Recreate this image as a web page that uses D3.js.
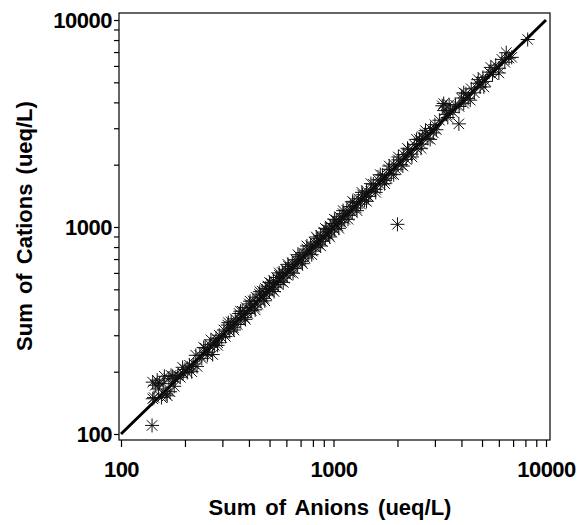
<!DOCTYPE html>
<html>
<head>
<meta charset="utf-8">
<script src="https://cdn.jsdelivr.net/npm/d3@7"></script>
<style>
  body { margin: 0; background: #fff; }
  text { font-family: "Liberation Sans", Arial, sans-serif; }
</style>
</head>
<body>
<div id="chart"></div>
<script>
// Size of the page and the plot frame
const width = 579;
const height = 525;
const frame = {left: 119, right: 550, top: 13, bottom: 440};

// Tick values for both log axes
const majorTicks = [100, 1000, 10000];
const minorTicks = [200, 300, 400, 500, 600, 700, 800, 900,
                    2000, 3000, 4000, 5000, 6000, 7000, 8000, 9000];

// Sum of anions (x) and sum of cations (y), ueq/L
const anions = [
  140, 141, 141, 143, 145, 148, 152, 155, 160, 163, 165, 168, 170, 175, 180, 185, 190, 196, 200, 205,
  210, 216, 220, 228, 235, 240, 249, 255, 262, 270, 275, 280, 285, 290, 298,
  305, 310, 318, 325, 330, 338, 345, 352, 360, 366, 372, 380, 388, 395, 402, 410, 418, 425, 432, 440,
  448, 455, 462, 470, 478, 485, 492, 500, 508, 515, 522, 530, 540, 548, 556, 565, 575, 585, 595, 605,
  615, 625, 640, 652, 665, 678, 690, 705, 720, 735, 750, 765, 780, 795, 810, 825, 840, 855, 870, 885,
  900, 915, 930, 948, 965, 980, 995, 1010, 1030, 1050, 1070, 1090, 1110, 1130, 1155, 1180, 1200, 1225,
  1250, 1280, 1310, 1340, 1370, 1400, 1430, 1460, 1500, 1540, 1580, 1620, 1660, 1700, 1740, 1780,
  1820, 1870, 1920, 1970, 2000, 2020, 2080, 2140, 2200, 2260, 2330, 2400, 2470, 2540, 2600, 2620,
  2700, 2780, 2860, 2950, 3000, 3050, 3150, 3250, 3300, 3350, 3400, 3450, 3500, 3550, 3650, 3750,
  3890, 3900, 4000, 4100, 4200, 4300, 4450, 4600, 4750, 4900, 5050, 5200, 5400, 5600, 5800, 6000,
  6200, 6400, 6700, 8200,
  150, 158, 172, 178, 195, 215, 225, 245, 255, 265, 285,
  320, 340, 365, 385, 405, 428, 450, 475, 500, 525, 555, 580, 610, 645, 680, 715, 750, 790, 830, 870,
  915, 960, 1010, 1060, 1110, 1170, 1230, 1290, 1360, 1430, 1500, 1580, 1660, 1740, 1830, 1920,
  2020, 2120, 2230, 2340, 2460, 2580, 2710, 2850, 4100, 4400, 4800, 5100, 5500, 6000, 6500, 6900
];
const cations = [
  110, 148, 178, 150, 172, 182, 176, 150, 190, 156, 153, 185, 160, 190, 185, 192, 188, 197, 205, 198,
  215, 212, 218, 212, 240, 232, 260, 248, 270, 242, 268, 290, 276, 300, 292,
  318, 296, 336, 312, 348, 326, 360, 338, 382, 352, 392, 365, 408, 382, 425, 395, 440, 410, 458, 424,
  474, 438, 490, 452, 505, 470, 518, 486, 535, 500, 550, 512, 570, 528, 585, 548, 602, 566, 625, 585,
  645, 605, 670, 630, 695, 655, 722, 680, 752, 708, 782, 738, 812, 765, 845, 795, 878, 825, 910, 852,
  945, 882, 975, 915, 1010, 945, 1040, 975, 1080, 1012, 1120, 1050, 1160, 1090, 1205, 1138, 1255, 1180,
  1310, 1235, 1370, 1290, 1430, 1350, 1495, 1405, 1485, 1610, 1520, 1690, 1600, 1780, 1680, 1720,
  1900, 1800, 2010, 1900, 1030, 2110, 2000, 2240, 2120, 2360, 2250, 2500, 2380, 2650, 2510, 2730,
  2820, 2680, 2990, 2850, 3120, 2950, 3280, 3850, 3950, 3650, 3500, 3380, 3900, 3680, 3580, 3880,
  3150, 3820, 4200, 3960, 4400, 4180, 4650, 4450, 4950, 4750, 5280, 5050, 5600, 5450, 6050, 5850,
  6450, 6250, 6550, 8050,
  165, 175, 192, 170, 210, 200, 240, 262, 240, 285, 268,
  345, 318, 392, 358, 438, 398, 487, 440, 540, 488, 600, 540, 660, 598, 735, 665, 810, 735, 895, 810,
  985, 895, 1090, 985, 1200, 1090, 1330, 1200, 1470, 1330, 1620, 1470, 1790, 1620, 1970, 1790,
  2180, 1970, 2400, 2180, 2650, 2400, 2920, 2650, 4450, 4100, 5150, 4750, 5900, 5550, 6950, 6600
];

const svg = d3.select("#chart")
  .append("svg")
  .attr("width", width)
  .attr("height", height);

// log scales, 100 to 10000 on both axes
const xScale = d3.scaleLog()
  .domain([100, 10000])
  .range([121, 546]);

const yScale = d3.scaleLog()
  .domain([100, 10000])
  .range([434, 20]);

// frame around the plot
svg.append("rect")
  .attr("x", frame.left)
  .attr("y", frame.top)
  .attr("width", frame.right - frame.left)
  .attr("height", frame.bottom - frame.top)
  .attr("fill", "none")
  .attr("stroke", "#000")
  .attr("stroke-width", 1.2);

// x axis
const xAxis = svg.append("g")
  .attr("transform", `translate(0,${frame.bottom})`)
  .call(d3.axisBottom(xScale)
    .tickValues(majorTicks.concat(minorTicks))
    .tickSize(7)
    .tickPadding(14)
    .tickFormat(d => majorTicks.includes(d) ? d : ""));
xAxis.select(".domain").remove();
xAxis.selectAll("line").attr("stroke", "#000").attr("stroke-width", 1.2);
xAxis.selectAll("text")
  .attr("font-size", "22px")
  .attr("font-weight", "bold")
  .attr("fill", "#000")
  .attr("letter-spacing", "-0.5px")
  .style("font-family", "Liberation Sans, Arial, sans-serif");

// y axis
const yAxis = svg.append("g")
  .attr("transform", `translate(${frame.left},0)`)
  .call(d3.axisLeft(yScale)
    .tickValues(majorTicks.concat(minorTicks))
    .tickSize(5)
    .tickPadding(2)
    .tickFormat(d => majorTicks.includes(d) ? d : ""));
yAxis.select(".domain").remove();
yAxis.selectAll("line").attr("stroke", "#000").attr("stroke-width", 1.2);
yAxis.selectAll("text")
  .attr("font-size", "22px")
  .attr("font-weight", "bold")
  .attr("fill", "#000")
  .attr("letter-spacing", "-0.5px")
  .style("font-family", "Liberation Sans, Arial, sans-serif");

// axis titles
svg.append("text")
  .attr("x", 330)
  .attr("y", 515)
  .attr("text-anchor", "middle")
  .attr("font-size", "22px")
  .attr("font-weight", "bold")
  .attr("word-spacing", "3px")
  .text("Sum of Anions (ueq/L)");

svg.append("text")
  .attr("transform", "translate(32,226) rotate(-90)")
  .attr("text-anchor", "middle")
  .attr("font-size", "22px")
  .attr("font-weight", "bold")
  .attr("word-spacing", "3px")
  .text("Sum of Cations (ueq/L)");

// 1:1 line
svg.append("line")
  .attr("x1", xScale(100))
  .attr("y1", yScale(100))
  .attr("x2", xScale(10000))
  .attr("y2", yScale(10000))
  .attr("stroke", "#000")
  .attr("stroke-width", 3);

// asterisk markers
const r = 7;
const star = `M${-r},0L${r},0M0,${-r}L0,${r}M${-r*0.75},${-r*0.75}L${r*0.75},${r*0.75}M${-r*0.75},${r*0.75}L${r*0.75},${-r*0.75}`;

svg.selectAll(".pt")
  .data(d3.range(anions.length))
  .enter()
  .append("path")
    .attr("class", "pt")
    .attr("transform", i => `translate(${xScale(anions[i])},${yScale(cations[i])})`)
    .attr("d", star)
    .attr("fill", "none")
    .attr("stroke", "#111")
    .attr("stroke-width", 1);
</script>
</body>
</html>
